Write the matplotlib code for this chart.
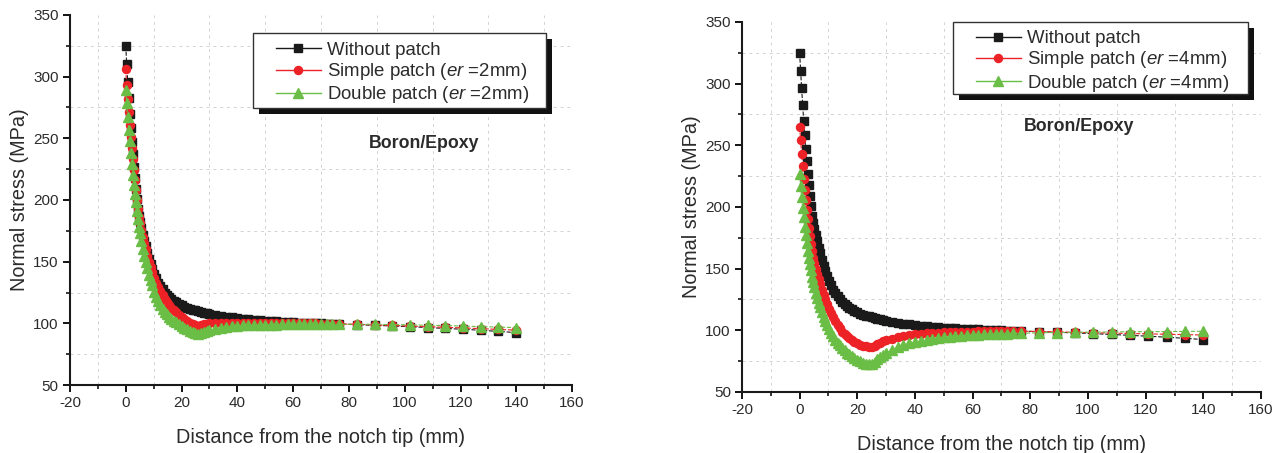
import matplotlib
matplotlib.use("Agg")
import matplotlib.pyplot as plt
from matplotlib.lines import Line2D
from matplotlib.patches import Rectangle
from matplotlib.ticker import MultipleLocator
from matplotlib.transforms import ScaledTranslation

plt.rcParams['font.family'] = ['Liberation Sans', 'DejaVu Sans']
plt.rcParams['mathtext.fontset'] = 'custom'
plt.rcParams['mathtext.rm'] = 'Liberation Sans'
plt.rcParams['mathtext.it'] = 'Liberation Sans:italic'
plt.rcParams['axes.unicode_minus'] = False

# distance from the notch tip (mm), same mesh for all curves
dist = [0, 0.35, 0.7, 1.05, 1.4, 1.75, 2.1, 2.45, 2.8, 3.15, 3.5,
        3.9, 4.3, 4.7, 5.1, 5.6, 6.1, 6.6, 7.1, 7.7, 8.3, 8.9, 9.5,
        10.2, 10.9, 11.6, 12.4, 13.2, 14, 14.8, 15.6, 16.4, 17.2, 18,
        19, 20, 21, 22, 23, 24, 25, 26, 27, 28, 29, 30,
        32, 34, 36, 38, 40, 42, 44, 46, 48, 50, 52, 54, 56, 58, 60,
        62, 64, 66, 68, 70, 72, 74, 76.6,
        82.9, 89.2, 95.5, 101.9, 108.2, 114.6, 120.9, 127.3, 133.6, 140.0]

# normal stress (MPa)
without_patch = [325, 310, 296, 283, 270, 258, 247, 237, 227, 218, 209,
                 201, 193, 187, 182, 177, 172, 167, 162.5, 157, 152, 148, 144,
                 140, 136.5, 133, 130, 127.5, 125, 123, 121.3, 119.8, 118.4, 117.2,
                 115.8, 114.6, 113.6, 112.7, 111.9, 111.2, 110.5, 109.9, 109.3, 108.8, 108.3, 107.8,
                 107, 106.2, 105.5, 104.9, 104.3, 103.8, 103.3, 102.9, 102.5, 102.2, 101.9, 101.6,
                 101.3, 101.1, 100.9, 100.7, 100.5, 100.3, 100.1, 99.9, 99.8, 99.6, 99.4,
                 98.9, 98.4, 97.9, 97.3, 96.6, 95.9, 95.2, 94.4, 93.5, 92.5]

simple_2mm = [306, 293, 281.5, 271, 261, 251, 242, 233, 224.5, 216.5, 208.5,
              200, 192.5, 186, 181, 175.5, 170, 165, 160, 155, 150, 145.5, 141.5,
              137, 133, 129.5, 126, 122.8, 120, 117.4, 115, 112.8, 110.8, 109,
              107, 105.2, 103.5, 102, 100.6, 99.3, 98.3, 97.8, 98.5, 99.2, 99.6, 99.9,
              100.2, 100.4, 100.5, 100.5, 100.5, 100.5, 100.5, 100.4, 100.4, 100.3, 100.3, 100.2,
              100.2, 100.1, 100.1, 100, 100, 99.9, 99.9, 99.8, 99.8, 99.7, 99.6,
              99.2, 98.8, 98.3, 97.8, 97.3, 96.8, 96.3, 95.7, 95.1, 94.5]

double_2mm = [289, 278.5, 267.5, 257, 247.5, 238, 229, 220.5, 212.5, 205, 198,
              191, 184.5, 178.5, 173, 166.5, 160.5, 155, 150, 144.5, 139.5, 135, 131,
              125.5, 121.5, 118, 114.5, 111.8, 109.5, 107.4, 105.5, 103.8, 102.3, 101,
              99.4, 97.9, 96.5, 95.2, 94, 93, 92.2, 91.7, 92.4, 93.3, 94.1, 94.8,
              95.8, 96.6, 97.2, 97.6, 98, 98.3, 98.5, 98.7, 98.8, 98.9, 99, 99,
              99.1, 99.1, 99.1, 99.2, 99.2, 99.2, 99.2, 99.2, 99.2, 99.2, 99.2,
              99.3, 99.2, 99, 98.8, 98.5, 98.2, 97.8, 97.4, 97, 96.5]

simple_4mm = [265, 254, 243, 233, 223, 214, 205.5, 197.5, 190, 183, 176.5,
              170, 164, 159, 154.5, 150, 145.5, 141.5, 137.5, 133, 129, 125, 121.5,
              117.5, 114, 111, 107.5, 104.5, 101.5, 99, 97, 95.2, 93.6, 92.2,
              90.6, 89.3, 88.3, 87.5, 87, 86.7, 86.8, 87.6, 88.8, 90, 91, 91.8,
              93, 94.2, 95.1, 95.9, 96.6, 97.1, 97.5, 97.8, 98.1, 98.3, 98.5, 98.7,
              98.8, 98.9, 99, 99.1, 99.2, 99.2, 99.3, 99.3, 99.3, 99.3, 99.3,
              99, 98.7, 98.4, 98, 97.7, 97.4, 97.1, 96.8, 96.5, 96.2]

double_4mm = [226.5, 217, 208, 199.5, 191.5, 184, 177, 170.5, 164.5, 159, 154,
              148.5, 143.5, 139, 135, 130.5, 126, 122, 118.5, 114.5, 111, 107.5, 104.5,
              101, 98, 95.3, 92.5, 90, 87.7, 85.6, 83.7, 82, 80.4, 79,
              77.4, 76, 74.8, 73.6, 72.7, 72.3, 73, 74.6, 76.5, 78.3, 80, 81.6,
              84, 86.3, 88, 89.4, 90.6, 91.6, 92.5, 93.2, 93.8, 94.4, 94.9, 95.3,
              95.7, 96, 96.3, 96.5, 96.7, 96.9, 97.1, 97.2, 97.4, 97.5, 97.6,
              98, 98.2, 98.4, 98.5, 98.7, 98.8, 98.9, 99, 99.1, 99.2]

x_ticks = [-20, 0, 20, 40, 60, 80, 100, 120, 140, 160]
y_ticks = [50, 100, 150, 200, 250, 300, 350]

c_black = '#1a1a1a'
c_red = '#ec2227'
c_green = '#6abd45'
c_text = '#2b2b2b'

fig = plt.figure(figsize=(12.81, 4.53), dpi=100)
ax1 = fig.add_axes([0.0546, 0.150, 0.392, 0.817])
ax2 = fig.add_axes([0.5792, 0.1347, 0.4052, 0.817])


def panel(ax, simple, double, er, txt_pos, box, leg_pos):
    ax.plot(dist, without_patch, color=c_black, ls='--', lw=0.8, marker='s', ms=5.3, zorder=3)
    ax.plot(dist, simple, color=c_red, ls='--', lw=0.8, marker='o', ms=5.8, zorder=3)
    ax.plot(dist, double, color=c_green, ls='--', lw=0.8, marker='^', ms=6.8, zorder=3)

    ax.set_xlim(-20, 160)
    ax.set_ylim(50, 350)
    ax.set_xticks(x_ticks)
    ax.set_yticks(y_ticks)
    ax.xaxis.set_minor_locator(MultipleLocator(10))
    ax.yaxis.set_minor_locator(MultipleLocator(25))
    ax.grid(which='minor', ls=(0, (3, 4)), color='#d2d2d2', lw=0.7)
    ax.set_axisbelow(True)

    for s in ['top', 'right']:
        ax.spines[s].set_visible(False)
    for s in ['left', 'bottom']:
        ax.spines[s].set_linewidth(1.5)
        ax.spines[s].set_color(c_black)
    ax.tick_params(which='major', direction='out', length=5, width=1.3,
                   labelsize=11, labelcolor=c_text, pad=3)
    ax.tick_params(which='minor', direction='out', length=3, width=1.1)

    ax.set_xlabel('Distance from the notch tip (mm)', fontsize=14.3, color=c_text, labelpad=13)
    ax.set_ylabel('Normal stress (MPa)', fontsize=14.3, color=c_text, labelpad=3)

    ax.text(txt_pos[0], txt_pos[1], 'Boron/Epoxy', fontsize=12.8, fontweight='bold',
            color=c_text, ha='center', va='center')

    # legend frame with a black drop shadow
    x0, y0, x1, y1 = box
    shift = ScaledTranslation(6 / 100, -6 / 100, fig.dpi_scale_trans)
    ax.add_artist(Rectangle((x0, y0), x1 - x0, y1 - y0, transform=ax.transAxes + shift,
                            facecolor='#111111', edgecolor='none', zorder=5, clip_on=False))
    ax.add_artist(Rectangle((x0, y0), x1 - x0, y1 - y0, transform=ax.transAxes,
                            facecolor='white', edgecolor='#333333', lw=1.0, zorder=5.2,
                            clip_on=False))

    handles = [Line2D([], [], color=c_black, lw=1, marker='s', ms=5.3),
               Line2D([], [], color=c_red, lw=1, marker='o', ms=5.8),
               Line2D([], [], color=c_green, lw=1, marker='^', ms=6.8)]
    labels = ['Without patch',
              'Simple patch ($\\it{er}$ =' + er + 'mm)',
              'Double patch ($\\it{er}$ =' + er + 'mm)']
    leg = ax.legend(handles, labels, loc='upper left', bbox_to_anchor=leg_pos,
                    borderaxespad=0, borderpad=0, fontsize=13.4, frameon=False,
                    handlelength=2.42, handletextpad=0.32, labelspacing=0.12)
    for t in leg.get_texts():
        t.set_color(c_text)
    leg.set_zorder(6)


panel(ax1, simple_2mm, double_2mm, '2', (107, 246),
      (0.3645, 0.7486, 0.948, 0.951), (0.410, 0.927))
panel(ax2, simple_4mm, double_4mm, '4', (97, 265),
      (0.4066, 0.805, 0.975, 1.0), (0.450, 0.978))

fig.savefig('out.png', dpi=100)
